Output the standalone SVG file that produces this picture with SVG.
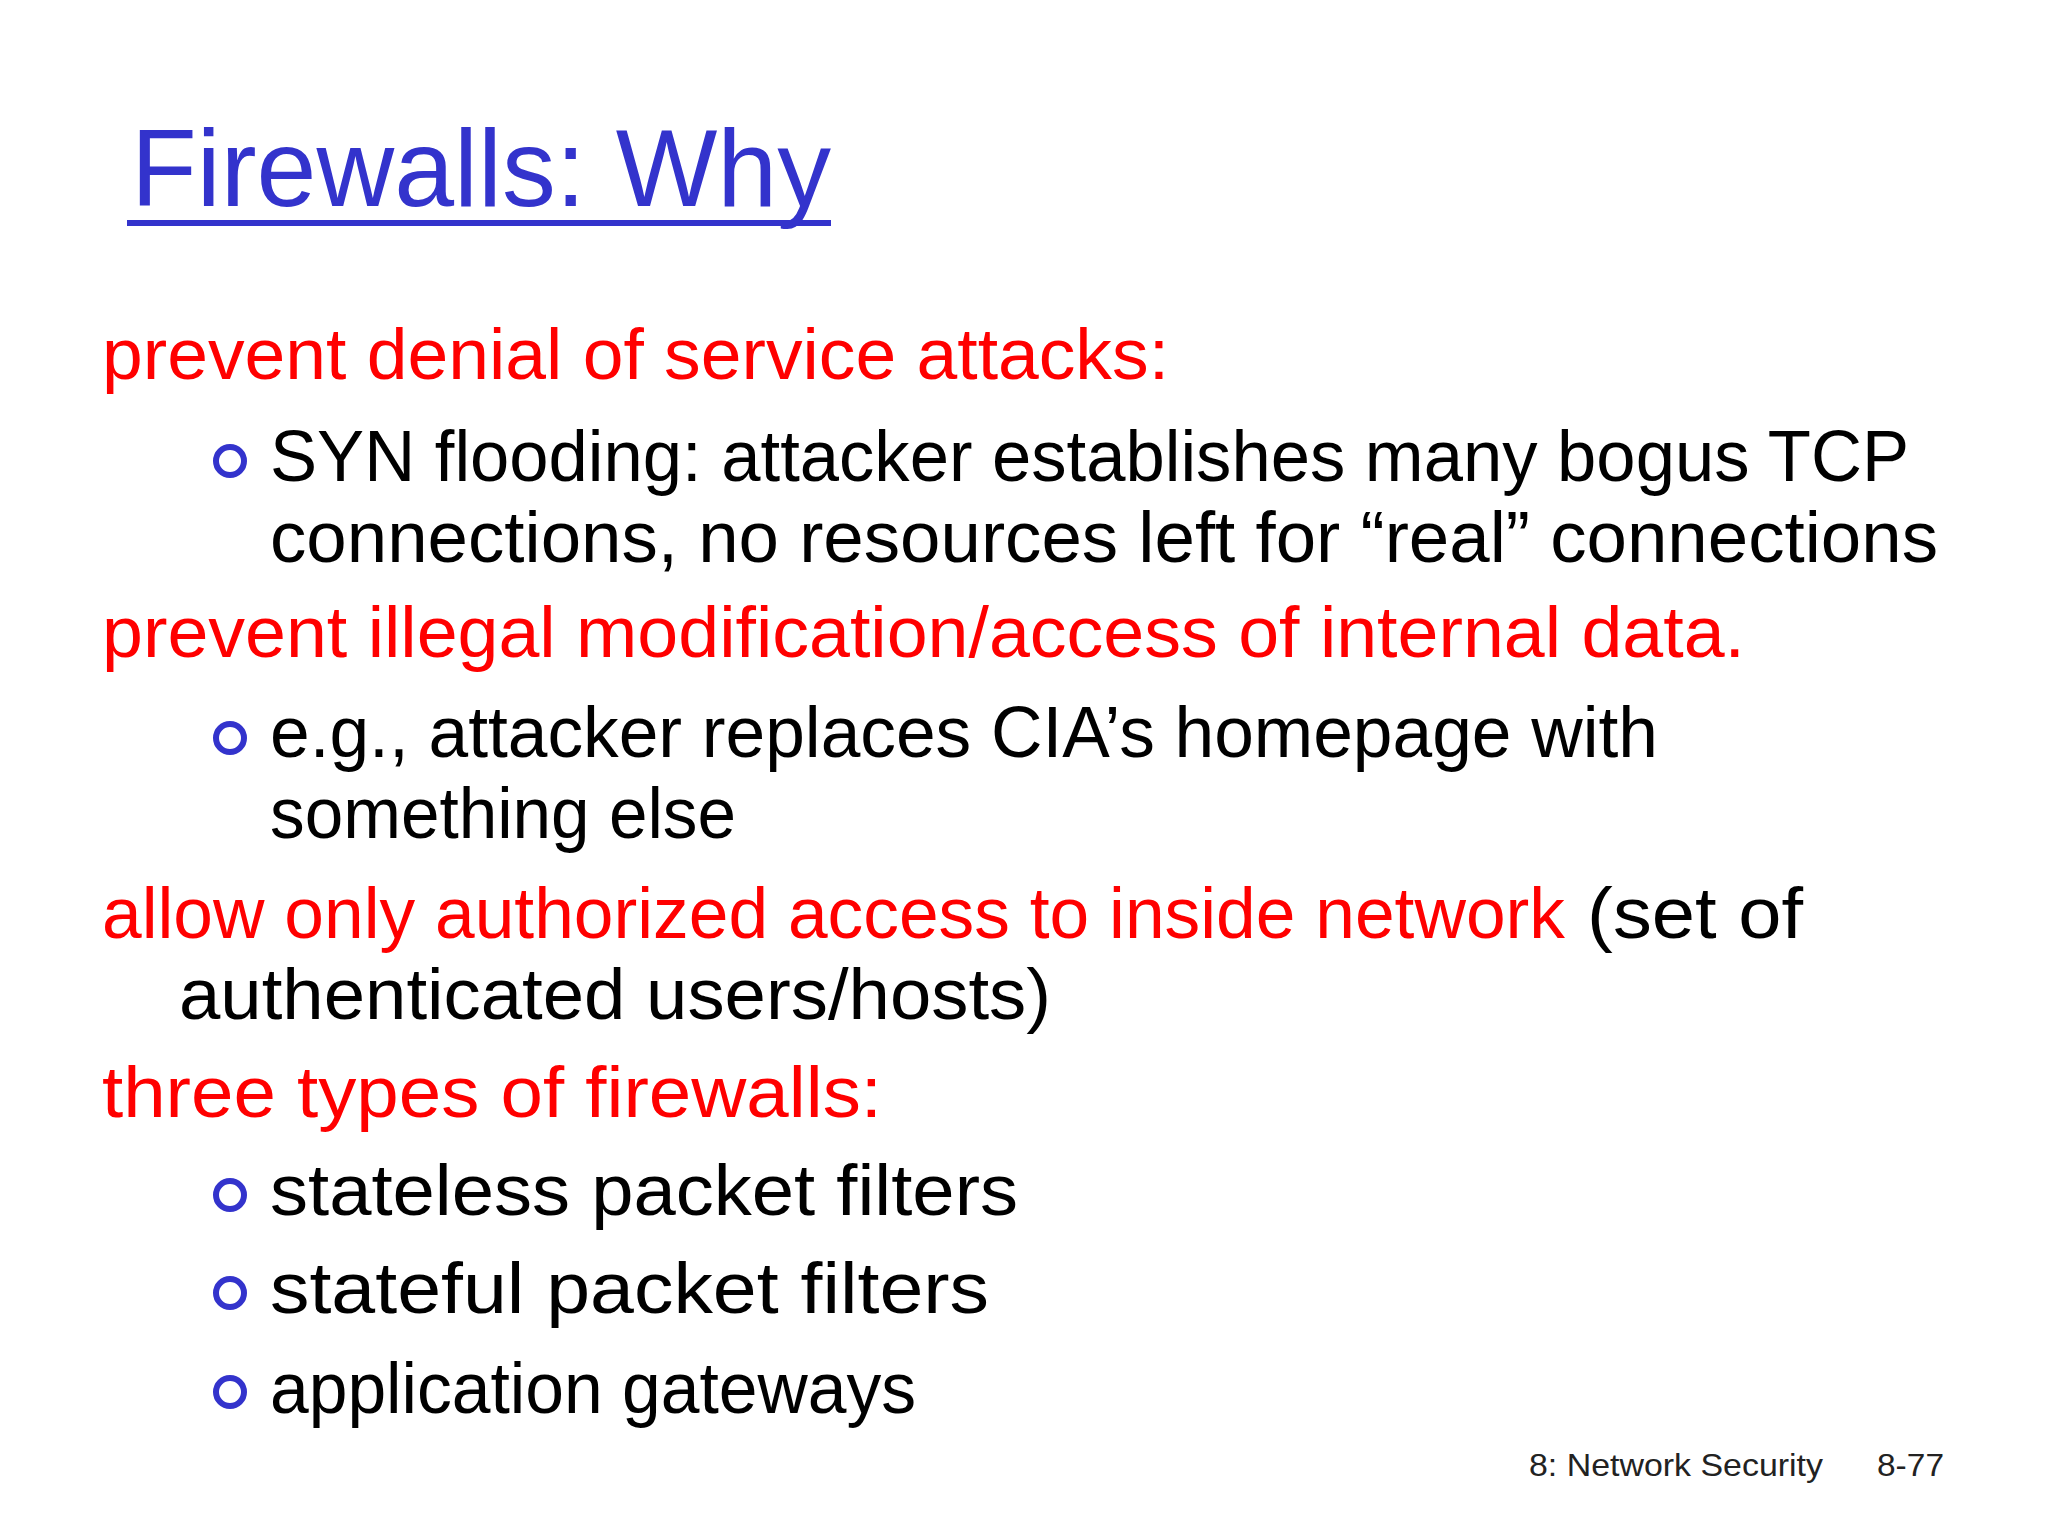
<svg xmlns="http://www.w3.org/2000/svg" width="2048" height="1536" viewBox="0 0 2048 1536">
<style>
.t{font-family:"Liberation Sans","DejaVu Sans",sans-serif;font-size:72px}
.r{fill:#ff0000}.k{fill:#000}
.b{fill:none;stroke:#3333cc;stroke-width:6}
</style>
<rect width="2048" height="1536" fill="#fff"/>
<g id="title">
<text x="131" y="206" font-family="Liberation Sans,sans-serif" font-size="110" fill="#3333cc" textLength="700" lengthAdjust="spacingAndGlyphs">Firewalls: Why</text>
<rect x="127" y="220" width="704" height="6" fill="#3333cc"/>
</g>
<g id="body">
<text class="t r" x="102" y="379" textLength="1067" lengthAdjust="spacingAndGlyphs">prevent denial of service attacks:</text>
<circle class="b" cx="230" cy="461" r="14"/>
<text class="t k" x="270" y="481" textLength="1639" lengthAdjust="spacingAndGlyphs">SYN flooding: attacker establishes many bogus TCP</text>
<text class="t k" x="270" y="562" textLength="1668" lengthAdjust="spacingAndGlyphs">connections, no resources left for “real” connections</text>
<text class="t r" x="102" y="657" textLength="1643" lengthAdjust="spacingAndGlyphs">prevent illegal modification/access of internal data.</text>
<circle class="b" cx="230" cy="738" r="14"/>
<text class="t k" x="270" y="757" textLength="1388" lengthAdjust="spacingAndGlyphs">e.g., attacker replaces CIA’s homepage with</text>
<text class="t k" x="270" y="838" textLength="466" lengthAdjust="spacingAndGlyphs">something else</text>
<text class="t r" x="102" y="938" textLength="1463" lengthAdjust="spacingAndGlyphs">allow only authorized access to inside network</text>
<text class="t k" x="1587" y="938" textLength="216" lengthAdjust="spacingAndGlyphs">(set of</text>
<text class="t k" x="179" y="1019" textLength="872" lengthAdjust="spacingAndGlyphs">authenticated users/hosts)</text>
<text class="t r" x="102" y="1117" textLength="780" lengthAdjust="spacingAndGlyphs">three types of firewalls:</text>
<circle class="b" cx="230" cy="1195" r="14"/>
<text class="t k" x="270" y="1215" textLength="748" lengthAdjust="spacingAndGlyphs">stateless packet filters</text>
<circle class="b" cx="230" cy="1293" r="14"/>
<text class="t k" x="270" y="1313" textLength="719" lengthAdjust="spacingAndGlyphs">stateful packet filters</text>
<circle class="b" cx="230" cy="1392" r="14"/>
<text class="t k" x="270" y="1413" textLength="646" lengthAdjust="spacingAndGlyphs">application gateways</text>
</g>
<g id="footer" font-family="Liberation Sans,sans-serif" font-size="32" fill="#222">
<text x="1529" y="1476" textLength="294" lengthAdjust="spacingAndGlyphs">8: Network Security</text>
<text x="1877" y="1476" textLength="67" lengthAdjust="spacingAndGlyphs">8-77</text>
</g>
</svg>
